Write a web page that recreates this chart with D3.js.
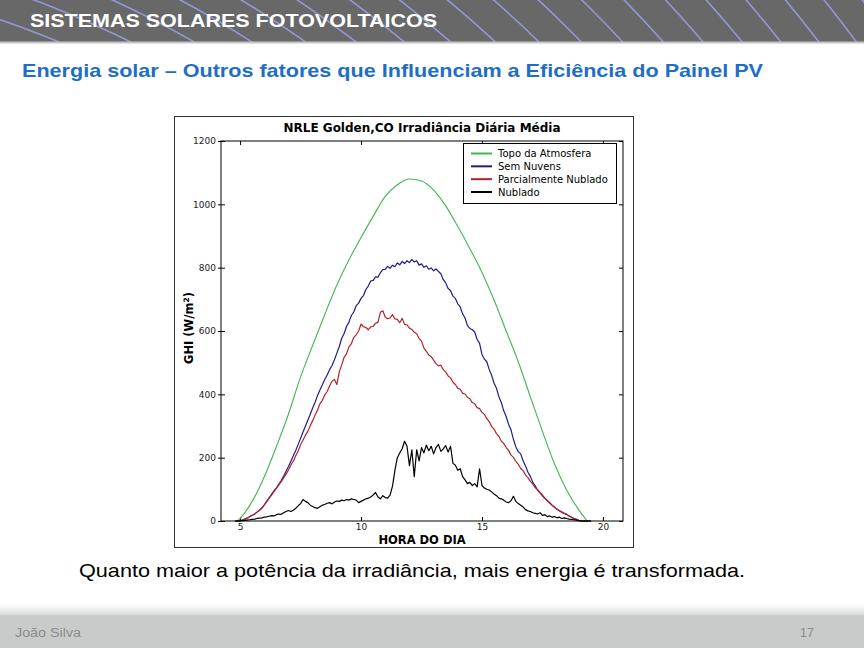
<!DOCTYPE html>
<html>
<head>
<meta charset="utf-8">
<script src="https://cdn.jsdelivr.net/npm/d3@7"></script>
<style>
  body { margin: 0; background: #fff; }
  svg { display: block; }
</style>
</head>
<body>
<svg id="slide" width="864" height="648"></svg>
<script>
// hour of day, one sample every 6 minutes
const hours = [
  4.8, 4.9,
  5.0, 5.1, 5.2, 5.3, 5.4, 5.5, 5.6, 5.7, 5.8, 5.9,
  6.0, 6.1, 6.2, 6.3, 6.4, 6.5, 6.6, 6.7, 6.8, 6.9,
  7.0, 7.1, 7.2, 7.3, 7.4, 7.5, 7.6, 7.7, 7.8, 7.9,
  8.0, 8.1, 8.2, 8.3, 8.4, 8.5, 8.6, 8.7, 8.8, 8.9,
  9.0, 9.1, 9.2, 9.3, 9.4, 9.5, 9.6, 9.7, 9.8, 9.9,
  10.0, 10.1, 10.2, 10.3, 10.4, 10.5, 10.6, 10.7, 10.8, 10.9,
  11.0, 11.1, 11.2, 11.3, 11.4, 11.5, 11.6, 11.7, 11.8, 11.9,
  12.0, 12.1, 12.2, 12.3, 12.4, 12.5, 12.6, 12.7, 12.8, 12.9,
  13.0, 13.1, 13.2, 13.3, 13.4, 13.5, 13.6, 13.7, 13.8, 13.9,
  14.0, 14.1, 14.2, 14.3, 14.4, 14.5, 14.6, 14.7, 14.8, 14.9,
  15.0, 15.1, 15.2, 15.3, 15.4, 15.5, 15.6, 15.7, 15.8, 15.9,
  16.0, 16.1, 16.2, 16.3, 16.4, 16.5, 16.6, 16.7, 16.8, 16.9,
  17.0, 17.1, 17.2, 17.3, 17.4, 17.5, 17.6, 17.7, 17.8, 17.9,
  18.0, 18.1, 18.2, 18.3, 18.4, 18.5, 18.6, 18.7, 18.8, 18.9,
  19.0, 19.1, 19.2, 19.3, 19.4, 19.5
];

// Sem Nuvens (W/m2)
const clearSky = [
  0, 0,
  1, 3, 6, 9, 14, 18, 22, 28, 34, 41,
  51, 62, 73, 84, 95, 105, 116, 128, 142, 157,
  172, 189, 206, 223, 242, 261, 281, 299, 318, 337,
  357, 375, 396, 414, 430, 447, 461, 478, 491, 509,
  530, 551, 577, 592, 614, 628, 649, 660, 680, 688,
  703, 712, 731, 742, 758, 760, 771, 770, 784, 794,
  795, 804, 798, 808, 803, 815, 809, 820, 813, 822,
  816, 826, 818, 822, 808, 812, 801, 806, 795, 799,
  790, 796, 788, 781, 762, 752, 734, 728, 710, 703,
  686, 676, 654, 641, 617, 608, 604, 597, 573, 561,
  526, 511, 503, 478, 460, 435, 419, 392, 374, 348,
  330, 305, 288, 258, 234, 219, 212, 190, 174, 154,
  141, 122, 111, 97, 89, 79, 72, 64, 58, 49,
  44, 37, 33, 28, 24, 21, 16, 12, 8, 5,
  2, 0, 0, 0, 0, 0
];

// Parcialmente Nublado
const partlyCloudy = [
  0, 0,
  1, 3, 6, 9, 14, 18, 22, 28, 34, 41,
  51, 61, 72, 82, 93, 103, 113, 124, 136, 148,
  161, 177, 189, 206, 221, 241, 255, 271, 283, 301,
  317, 335, 350, 370, 381, 398, 409, 426, 441, 447,
  431, 471, 493, 517, 528, 550, 560, 580, 588, 600,
  622, 614, 611, 604, 613, 615, 624, 628, 659, 664,
  644, 639, 641, 652, 638, 637, 626, 640, 621, 619,
  609, 605, 596, 591, 576, 568, 546, 536, 524, 519,
  508, 497, 490, 492, 478, 471, 458, 452, 438, 431,
  419, 416, 403, 401, 390, 386, 374, 370, 358, 355,
  343, 337, 323, 314, 298, 290, 276, 267, 252, 245,
  232, 223, 208, 201, 188, 179, 166, 159, 145, 137,
  125, 117, 105, 99, 89, 82, 72, 65, 56, 50,
  43, 38, 32, 28, 24, 21, 16, 12, 8, 5,
  2, 0, 0, 0, 0, 0
];

// Nublado
const cloudy = [
  0, 0,
  0, 1, 2, 3, 4, 5, 6, 8, 9, 10,
  12, 13, 15, 17, 16, 20, 22, 21, 26, 30,
  33, 30, 34, 40, 48, 55, 68, 62, 58, 50,
  46, 42, 40, 45, 50, 52, 56, 58, 54, 60,
  63, 62, 66, 64, 68, 66, 70, 68, 66, 58,
  62, 66, 70, 72, 76, 82, 90, 76, 70, 80,
  74, 72, 82, 110, 160, 200, 215, 228, 252, 236,
  175, 225, 140, 225, 190, 232, 215, 240, 222, 236,
  212, 232, 242, 220, 228, 238, 218, 236, 182, 176,
  160, 165, 140, 130, 118, 122, 112, 118, 108, 165,
  112, 104, 100, 98, 92, 85, 80, 72, 70, 66,
  60, 58, 64, 78, 62, 55, 50, 44, 36, 32,
  30, 26, 24, 22, 26, 18, 20, 14, 16, 12,
  14, 10, 12, 8, 10, 8, 6, 5, 4, 3,
  1, 0, 0, 0, 0, 0
];

// Topo da Atmosfera (smooth, coarser sampling)
const toaHours = [4.9, 5.0, 5.5, 6.0, 6.5, 7.0, 7.5, 8.0, 8.5, 9.0, 9.5, 10.0, 10.5, 11.0, 11.5,
  12.0, 12.5, 13.0, 13.5, 14.0, 14.5, 15.0, 15.5, 16.0, 16.5, 17.0, 17.5, 18.0, 18.5, 19.0, 19.35];
const toa = [0, 8, 62, 140, 235, 338, 455, 555, 652, 745, 825, 895, 962, 1025, 1062,
  1080, 1074, 1045, 995, 930, 860, 785, 698, 600, 503, 392, 283, 180, 98, 35, 0];

const seriesNames = ["Topo da Atmosfera", "Sem Nuvens", "Parcialmente Nublado", "Nublado"];
const seriesColors = ["#3fb84c", "#1c1c8c", "#b3232b", "#000000"];
const xTicks = [5, 10, 15, 20];
const yTicks = [0, 200, 400, 600, 800, 1000, 1200];

const svg = d3.select("#slide");

// ---------- slide header ----------
svg.append("defs").append("clipPath").attr("id", "hdrClip")
  .append("rect").attr("x", 0).attr("y", 0).attr("width", 864).attr("height", 42);

svg.append("rect").attr("x", 0).attr("y", 0).attr("width", 864).attr("height", 42).attr("fill", "#686868");

const swirl = svg.append("g").attr("clip-path", "url(#hdrClip)");
swirl.selectAll("circle")
  .data(d3.range(930, 1480, 30))
  .enter().append("circle")
  .attr("cx", -300).attr("cy", 900).attr("r", d => d)
  .attr("fill", "none").attr("stroke", "#9ba0e6").attr("stroke-width", 1.6).attr("opacity", 0.85);

svg.append("line").attr("x1", 0).attr("x2", 864).attr("y1", 42.5).attr("y2", 42.5)
  .attr("stroke", "#c4c4c4").attr("stroke-width", 2);

svg.append("text")
  .attr("x", 30).attr("y", 27)
  .attr("font-family", "Liberation Sans, Arial, sans-serif")
  .attr("font-weight", "bold").attr("font-size", 17.5)
  .attr("fill", "#ffffff")
  .attr("textLength", 407).attr("lengthAdjust", "spacingAndGlyphs")
  .text("SISTEMAS SOLARES FOTOVOLTAICOS");

svg.append("text")
  .attr("x", 22).attr("y", 77)
  .attr("font-family", "Liberation Sans, Arial, sans-serif")
  .attr("font-weight", "bold").attr("font-size", 19)
  .attr("fill", "#1e6ec8")
  .attr("textLength", 741).attr("lengthAdjust", "spacingAndGlyphs")
  .text("Energia solar – Outros fatores que Influenciam a Eficiência do Painel PV");

// ---------- footer ----------
const fg = svg.append("defs").append("linearGradient").attr("id", "footFade")
  .attr("x1", 0).attr("x2", 0).attr("y1", 0).attr("y2", 1);
fg.append("stop").attr("offset", 0).attr("stop-color", "#ffffff");
fg.append("stop").attr("offset", 1).attr("stop-color", "#dadcdc");
svg.append("rect").attr("x", 0).attr("y", 604).attr("width", 864).attr("height", 11).attr("fill", "url(#footFade)");
svg.append("rect").attr("x", 0).attr("y", 615).attr("width", 864).attr("height", 33).attr("fill", "#c9cbcb");

svg.append("text")
  .attr("x", 15).attr("y", 637)
  .attr("font-family", "Liberation Sans Narrow, Liberation Sans, sans-serif")
  .attr("font-size", 12.5).attr("fill", "#8a8c8c")
  .attr("textLength", 66).attr("lengthAdjust", "spacingAndGlyphs")
  .text("João Silva");
svg.append("text")
  .attr("x", 800).attr("y", 637)
  .attr("font-family", "Liberation Sans Narrow, Liberation Sans, sans-serif")
  .attr("font-size", 12.5).attr("fill", "#8a8c8c")
  .text("17");

// caption under the chart
svg.append("text")
  .attr("x", 79).attr("y", 577)
  .attr("font-family", "Liberation Sans, Arial, sans-serif")
  .attr("font-size", 19).attr("fill", "#000")
  .attr("textLength", 666).attr("lengthAdjust", "spacingAndGlyphs")
  .text("Quanto maior a potência da irradiância, mais energia é transformada.");

// ---------- the chart picture ----------
svg.append("rect")
  .attr("x", 174.5).attr("y", 116.5).attr("width", 459).attr("height", 431)
  .attr("fill", "#fff").attr("stroke", "#333").attr("stroke-width", 1);

const plot = { left: 221, right: 623, top: 141, bottom: 521 };

const x = d3.scaleLinear().domain([4.21, 20.83]).range([plot.left, plot.right]);
const y = d3.scaleLinear().domain([0, 1200]).range([plot.bottom, plot.top]);

const chart = svg.append("g");
const tickFont = "DejaVu Sans, sans-serif";

// axes: ticks point inwards on all four sides
const gLeft = chart.append("g").attr("transform", `translate(${plot.left},0)`)
  .call(d3.axisLeft(y).tickValues(yTicks).tickFormat(d3.format("d")).tickSize(-4).tickPadding(5));
gLeft.selectAll(".tick").append("line").attr("x2", -3).attr("stroke", "#000");

const gBottom = chart.append("g").attr("transform", `translate(0,${plot.bottom})`)
  .call(d3.axisBottom(x).tickValues(xTicks).tickFormat(d3.format("d")).tickSize(-4).tickPadding(3));

const gTop = chart.append("g").attr("transform", `translate(0,${plot.top})`)
  .call(d3.axisTop(x).tickValues(xTicks).tickSize(-4).tickFormat(""));

const gRight = chart.append("g").attr("transform", `translate(${plot.right},0)`)
  .call(d3.axisRight(y).tickValues(yTicks).tickSize(-4).tickFormat(""));

[gLeft, gBottom, gTop, gRight].forEach(g => {
  g.select(".domain").remove();
  g.selectAll("text").attr("font-family", tickFont).attr("font-size", 9).attr("fill", "#222");
});

const line = d3.line()
  .x(d => x(d[0]))
  .y(d => y(d[1]));

const smooth = d3.line()
  .x(d => x(d[0]))
  .y(d => y(d[1]))
  .curve(d3.curveMonotoneX);

chart.append("path")
  .datum(d3.zip(toaHours, toa))
  .attr("d", smooth)
  .attr("fill", "none").attr("stroke", seriesColors[0]).attr("stroke-width", 1.1);

[clearSky, partlyCloudy, cloudy].forEach((vals, i) => {
  chart.append("path")
    .datum(d3.zip(hours, vals))
    .attr("d", line)
    .attr("fill", "none")
    .attr("stroke", seriesColors[i + 1])
    .attr("stroke-width", 1.2)
    .attr("stroke-linejoin", "round");
});

// frame of the plot area
chart.append("rect")
  .attr("x", plot.left).attr("y", plot.top)
  .attr("width", plot.right - plot.left).attr("height", plot.bottom - plot.top)
  .attr("fill", "none").attr("stroke", "#000").attr("stroke-width", 1);

// title and axis labels
chart.append("text")
  .attr("x", 422).attr("y", 132)
  .attr("text-anchor", "middle")
  .attr("font-family", tickFont).attr("font-weight", "bold").attr("font-size", 12)
  .attr("textLength", 277).attr("lengthAdjust", "spacingAndGlyphs")
  .text("NRLE Golden,CO Irradiância Diária Média");

chart.append("text")
  .attr("x", 422).attr("y", 544)
  .attr("text-anchor", "middle")
  .attr("font-family", tickFont).attr("font-weight", "bold").attr("font-size", 11.5)
  .text("HORA DO DIA");

const yl = chart.append("text")
  .attr("transform", "translate(193,328) rotate(-90)")
  .attr("text-anchor", "middle")
  .attr("font-family", tickFont).attr("font-weight", "bold").attr("font-size", 11.5);
yl.append("tspan").text("GHI (W/m");
yl.append("tspan").attr("font-size", 7.5).attr("dy", -4.5).text("2");
yl.append("tspan").attr("dy", 4.5).text(")");

// legend
const legend = chart.append("g");
legend.append("rect")
  .attr("x", 463.5).attr("y", 143.5).attr("width", 153).attr("height", 60)
  .attr("fill", "#fff").attr("stroke", "#000").attr("stroke-width", 1);

const rowY = d3.scalePoint().domain(seriesNames).range([153.5, 192]);
const item = legend.selectAll(".item")
  .data(seriesNames)
  .enter().append("g")
  .attr("class", "item")
  .attr("transform", d => `translate(0,${rowY(d)})`);
item.append("line")
  .attr("x1", 471).attr("x2", 492)
  .attr("stroke", (d, i) => seriesColors[i]).attr("stroke-width", 2);
item.append("text")
  .attr("x", 498).attr("dy", "0.35em")
  .attr("font-family", tickFont).attr("font-size", 10)
  .text(d => d);
</script>
</body>
</html>
